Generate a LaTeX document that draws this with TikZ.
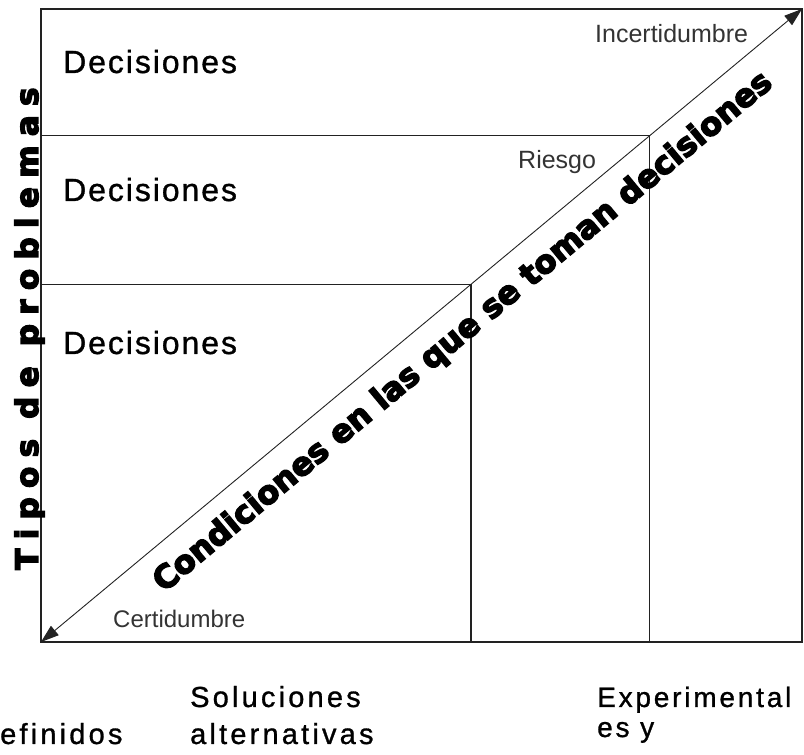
\documentclass[tikz,border=0pt]{standalone}
\usepackage{fontspec}
\setmainfont{Liberation Sans}
\newfontfamily\heavyfont{DejaVu Sans Bold}[FakeBold=4.5]
\newfontfamily\labelfont{Liberation Sans}[FakeBold=1]
\usetikzlibrary{arrows.meta,calc}
\definecolor{ink}{HTML}{222222}
\definecolor{softink}{HTML}{333333}
\begin{document}
\begin{tikzpicture}[x=1pt,y=1pt,
  frame/.style={draw=ink,line width=1.6pt},
  divider/.style={draw=ink,line width=1.3pt},
  diagonal/.style={draw=ink,line width=0.9pt,
    {Triangle[length=18pt,width=12pt]}-{Triangle[length=18pt,width=12pt]}},
  rowlabel/.style={anchor=base west,inner sep=0pt,text=black,
    font=\labelfont\fontsize{32}{36}\selectfont\addfontfeature{LetterSpace=6}},
  statelabel/.style={anchor=base west,inner sep=0pt,text=softink,
    font=\fontsize{25}{28}\selectfont},
  bottomlabel/.style={anchor=base west,inner sep=0pt,text=black,
    font=\labelfont\fontsize{29}{32}\selectfont\addfontfeature{LetterSpace=11}},
  axislabel/.style={inner sep=0pt,text=black,
    font=\heavyfont\fontsize{31}{34}\selectfont\addfontfeature{LetterSpace=30}},
  diaglabel/.style={inner sep=0pt,text=black,
    font=\heavyfont\fontsize{32}{34}\selectfont\addfontfeature{LetterSpace=0}}]
\useasboundingbox (0,0) rectangle (804,755);

% frame corners
\coordinate (bl) at (41,113);
\coordinate (tr) at (802,746);
\coordinate (tl) at (41,746);
\coordinate (br) at (802,113);

% corners of the nested regions lie on the diagonal
\coordinate (c1) at ($(bl)!0.565!(tr)$);
\coordinate (c2) at ($(bl)!0.800!(tr)$);

% nested regions
\draw[divider] (bl |- c2) -- (c2) -- (c2 |- bl);
\draw[divider] (bl |- c1) -- (c1) -- (c1 |- bl);
\draw[frame] (bl) rectangle (tr);

% diagonal axis
\draw[diagonal] (bl) -- (tr);

% row labels
\node[rowlabel] (dec1) at (63,682) {Decisiones};
\node[rowlabel] (dec2) at (63,554) {Decisiones};
\node[rowlabel] (dec3) at (63,401) {Decisiones};

% states along the diagonal
\node[statelabel] (incert) at (595,712) {Incertidumbre};
\node[statelabel] (riesgo) at (518,586) {Riesgo};
\node[statelabel,font=\fontsize{24}{27}\selectfont] (cert) at (113,127) {Certidumbre};

% vertical axis title
\node[axislabel,rotate=90,anchor=base west] (tipos) at (38,185) {Tipos de problemas};

% diagonal title
\coordinate (dmid) at ($(bl)!0.528!(tr)$);
\coordinate (dbase) at ($(dmid)!41pt!-90:(tr)$);
\node[diaglabel,rotate=39.76,anchor=base] (cond) at (dbase)
  {Condiciones en las que se toman decisiones};

% column labels
\node[bottomlabel] (col1) at (0,11) {efinidos};
\node[bottomlabel] (col2a) at (190,48) {Soluciones};
\node[bottomlabel] (col2b) at (190,11) {alternativas};
\node[bottomlabel,font=\labelfont\fontsize{28}{30}\selectfont\addfontfeature{LetterSpace=10}] (col3a) at (597,48) {Experimental};
\node[bottomlabel,font=\labelfont\fontsize{28}{30}\selectfont\addfontfeature{LetterSpace=10}] (col3b) at (597,18) {es y};
\end{tikzpicture}
\end{document}
